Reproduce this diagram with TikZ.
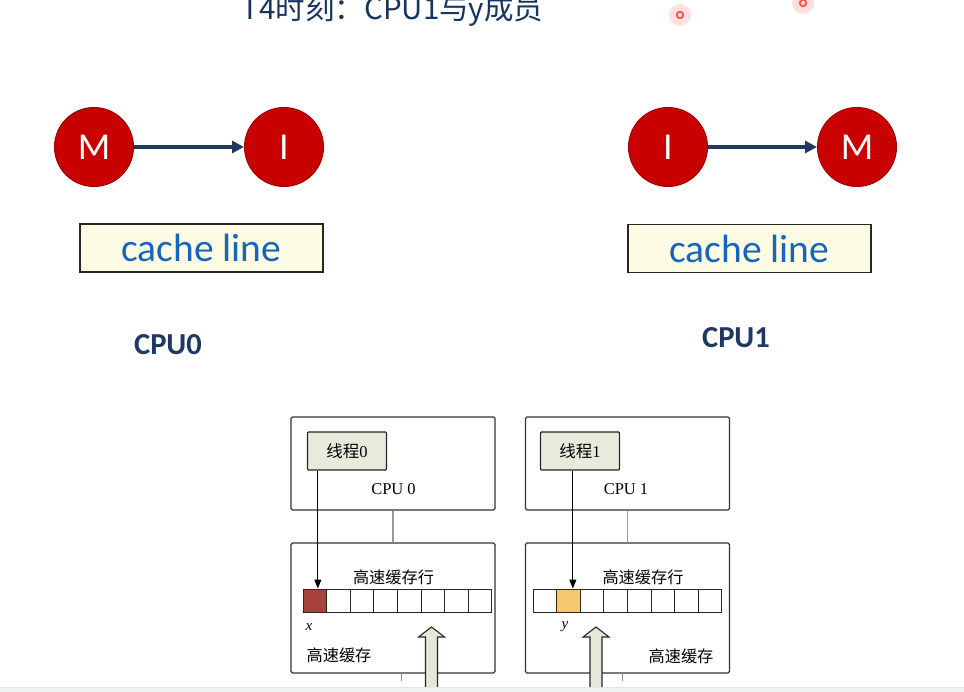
\documentclass[tikz,border=0pt]{standalone}
\usepackage{fontspec}
\setmainfont{Liberation Serif}
\setsansfont{Carlito}
\newfontfamily\cjk{Noto Sans CJK SC}
\usepackage{tikz}
\usetikzlibrary{arrows.meta, positioning}

\definecolor{navy}{HTML}{1F3864}
\definecolor{titleblue}{HTML}{17345F}
\definecolor{statered}{HTML}{C80000}
\definecolor{stateedge}{HTML}{A00000}
\definecolor{lineyellow}{HTML}{FDFBE3}
\definecolor{lineblue}{HTML}{1565B8}
\definecolor{threadfill}{HTML}{E8EADB}
\definecolor{xcell}{HTML}{A8423A}
\definecolor{ycell}{HTML}{F6C86E}
\definecolor{blockfill}{HTML}{E6E6DA}
\definecolor{bandgray}{HTML}{EEF2F2}

\begin{document}
\begin{tikzpicture}[
    x=1pt, y=-1pt,
    state/.style={circle, draw=stateedge, fill=statered, line width=1pt, minimum size=79pt, inner sep=0pt, text=white, font=\sffamily\fontsize{38}{38}\selectfont},
    trans/.style={-{Triangle[length=12pt,width=12pt]}, line width=3.2pt, navy},
    linebox/.style={rectangle, draw=black!85, fill=lineyellow, line width=1.4pt, minimum width=243pt, minimum height=48pt, inner sep=0pt, text=lineblue, font=\sffamily\fontsize{39.5}{39.5}\selectfont},
    cpulabel/.style={inner sep=0pt, text=navy, font=\sffamily\bfseries\fontsize{30.5}{30.5}\selectfont},
    unitbox/.style={rectangle, rounded corners=1.5pt, draw=black!80, line width=1.1pt, minimum width=204pt, inner sep=0pt},
    threadbox/.style={rectangle, rounded corners=1pt, draw=black!85, fill=threadfill, line width=1.3pt, minimum width=79pt, minimum height=38pt, inner sep=0pt, font=\fontsize{16.5}{16.5}\selectfont},
    cell/.style={rectangle, draw=black!85, line width=0.9pt, minimum width=23.6pt, minimum height=23pt, inner sep=0pt},
    tag/.style={inner sep=0pt, font=\cjk\fontsize{16.2}{16.2}\selectfont},
    ptr/.style={-{Triangle[length=9pt,width=7pt]}, line width=1pt, black},
    bus/.style={line width=1.2pt, black!40},
    blockarrow/.style={draw=black!85, fill=blockfill, line width=1.1pt, line join=miter}
]
\useasboundingbox (0,0) rectangle (964,692);

% title
\node[anchor=base, inner sep=0pt, text=titleblue, font=\cjk\fontsize{29.5}{29.5}\selectfont] (title) at (392.5,20) {T4时刻：CPU1与y成员};

% pointer marks
\foreach \px/\py in {680/15, 803/3} {
  \fill[red!12] (\px,\py) circle (11pt);
  \draw[red!65, line width=2pt] (\px,\py) circle (3.2pt);
}

% state transitions
\node[state] (m0) at (94,147) {M};
\node[state] (i0) at (284,147) {I};
\node[state] (i1) at (668,147) {I};
\node[state] (m1) at (857,147) {M};
\draw[trans] (m0) -- (i0);
\draw[trans] (i1) -- (m1);

\node[linebox] (line0) at (201.5,248) {cache line};
\node[linebox] (line1) at (749.5,248.5) {cache line};

\node[cpulabel] (cpu0label) at (168,345) {CPU0};
\node[cpulabel] (cpu1label) at (736,338) {CPU1};

% cpu and cache units
\node[unitbox, minimum height=93pt] (cpu0) at (393,463.5) {};
\node[unitbox, minimum height=93pt] (cpu1) at (627.5,463.5) {};
\node[unitbox, minimum height=130pt] (cache0) at (393,608) {};
\node[unitbox, minimum height=130pt] (cache1) at (627.5,608) {};

\node[threadbox] (thread0) at (347,451) {{\cjk 线程}0};
\node[threadbox] (thread1) at (580,451) {{\cjk 线程}1};
\node[inner sep=0pt, font=\fontsize{16.5}{16.5}\selectfont] (cpu0name) at (393.5,489) {CPU 0};
\node[inner sep=0pt, font=\fontsize{16.5}{16.5}\selectfont] (cpu1name) at (626,489) {CPU 1};

\draw[bus] (cpu0) -- (cache0);
\draw[bus] (cpu1) -- (cache1);

\foreach \i in {1,...,8} {
  \node[cell] (lcell\i) at ({291.2+23.6*\i},600.5) {};
  \node[cell] (rcell\i) at ({521.2+23.6*\i},600.5) {};
}
\node[cell, fill=xcell] at (lcell1) {};
\node[cell, fill=ycell, draw=black!70!brown] at (rcell2) {};

\node[tag] (row0) at (393.5,577) {高速缓存行};
\node[tag] (row1) at (643,577) {高速缓存行};
\node[tag] (name0) at (339,655) {高速缓存};
\node[tag] (name1) at (681,656) {高速缓存};
\node[inner sep=0pt, font=\itshape\fontsize{15}{15}\selectfont] (xvar) at (309,627) {x};
\node[inner sep=0pt, font=\itshape\fontsize{15}{15}\selectfont] (yvar) at (565,627) {y};

\draw[ptr] ([xshift=11pt]thread0.south west) -- ([xshift=11pt]thread0.south west |- lcell1.north);
\draw[ptr] ([xshift=33pt]thread1.south west) -- ([xshift=33pt]thread1.south west |- rcell2.north);

% links below the caches
\draw[line width=0.8pt, black!45] (401,673) -- (401,681);
\draw[line width=0.8pt, black!45] (622,673) -- (622,681);

% block arrows from memory
\foreach \ax in {431.5,596} {
  \draw[blockarrow] (\ax,627) -- ++(13,10) -- ++(-7,0) -- ++(0,60) -- ++(-12,0) -- ++(0,-60) -- ++(-7,0) -- cycle;
}

% slide edge
\fill[bandgray] (0,687) rectangle (964,692);
\draw[line width=0.6pt, black!10] (0,687) -- (964,687);
\end{tikzpicture}
\end{document}
